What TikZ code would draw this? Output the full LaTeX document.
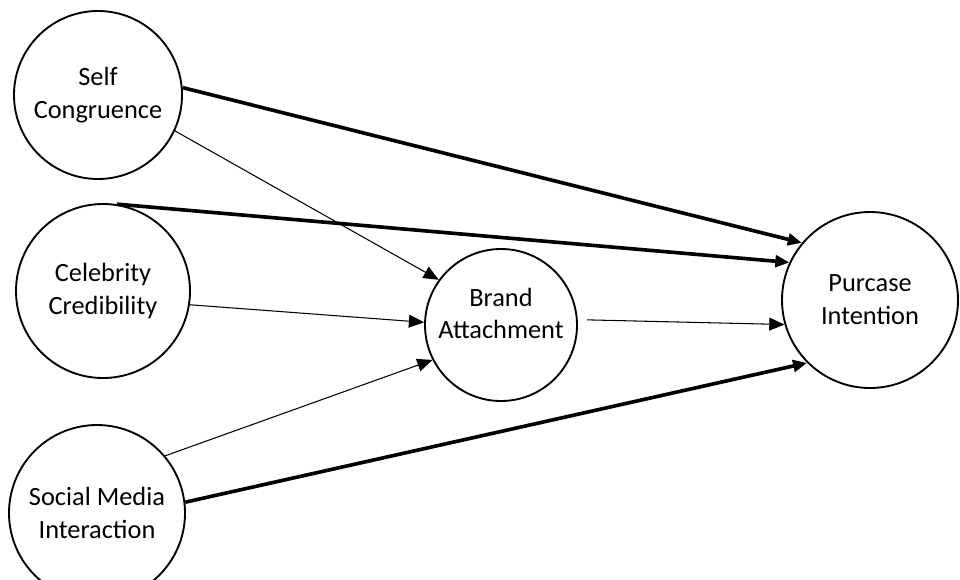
\documentclass[tikz,border=0pt]{standalone}
\usepackage{fontspec}
\setmainfont{Carlito}
\usetikzlibrary{arrows.meta}

\begin{document}
\begin{tikzpicture}[
    x=0.03cm, y=-0.03cm,
    construct/.style={draw, circle, line width=1.6pt, align=center,
                      inner sep=0pt, font=\fontsize{22.5}{28}\selectfont},
    thinarr/.style={-{Triangle[length=13pt, width=11pt]}, line width=0.9pt},
    thickarr/.style={-{Triangle[length=12pt, width=10pt]}, line width=3.1pt}
]
    \useasboundingbox (0,0) rectangle (960,579);
    % constructs
    \node[construct, minimum size=168*0.03cm] (sc)  at (98, 95)  {Self\\Congruence};
    \node[construct, minimum size=174*0.03cm] (cc)  at (103, 291) {Celebrity\\Credibility};
    \node[construct, minimum size=176*0.03cm] (smi) at (97, 513) {Social Media\\Interaction};
    \node[construct, minimum size=152*0.03cm, text depth=20pt] (ba) at (501, 325) {Brand\\Attachment};
    \node[construct, minimum size=176*0.03cm] (pi)  at (870, 300) {Purcase\\Intention};
    % paths to brand attachment
    \draw[thinarr] (sc.-25) -- (ba.144);
    \draw[thinarr] (cc.-9) -- (ba.178);
    \draw[thinarr] (smi.40) -- (ba.207);
    \draw[thinarr, shorten <=8pt] (ba.4) -- (pi.196);
    % direct paths
    \draw[thickarr] (sc.5) -- (pi.140);
    \draw[thickarr] (cc.81) -- (pi.155);
    \draw[thickarr] (smi.7) -- (pi.225);
\end{tikzpicture}
\end{document}
